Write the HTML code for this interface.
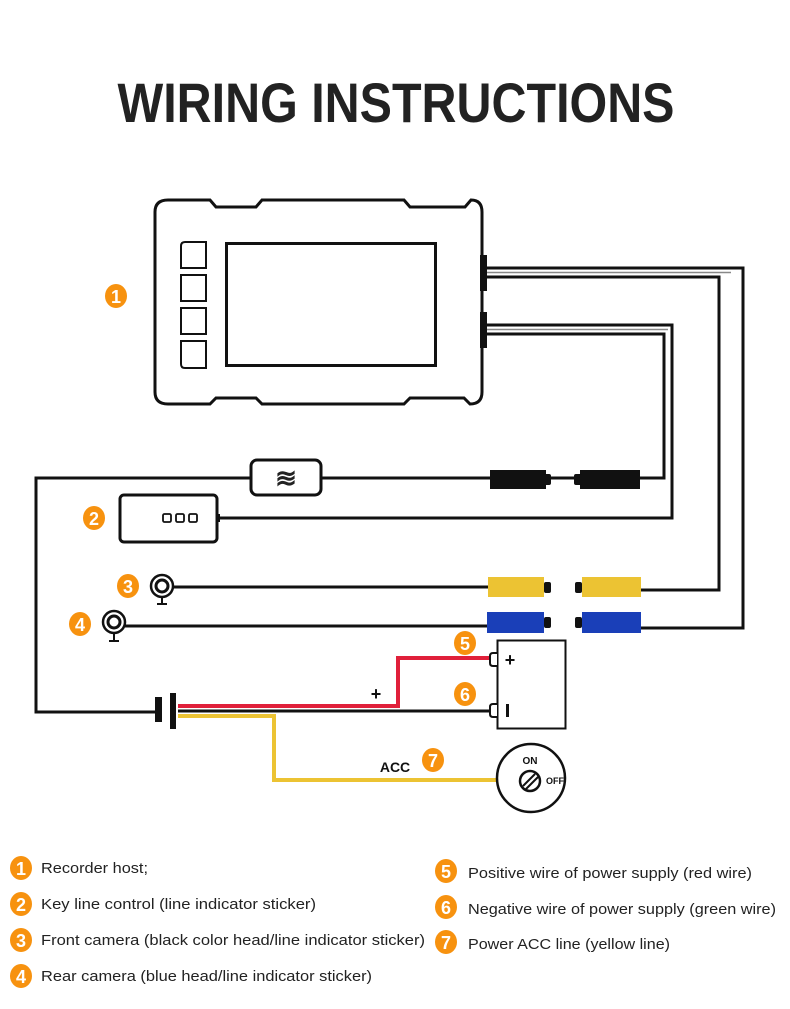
<!DOCTYPE html>
<html><head><meta charset="utf-8"><style>
html,body{margin:0;padding:0;background:#fff;}
svg{display:block;}
.b text{font-family:"Liberation Sans",sans-serif;}
</style></head><body>
<svg width="790" height="1009" viewBox="0 0 790 1009" xmlns="http://www.w3.org/2000/svg" font-family="Liberation Sans, sans-serif">
<defs>
<g id="bd"><ellipse cx="0" cy="0" rx="11" ry="12" fill="#f7920f"/></g>
</defs>
<text x="396" y="122" text-anchor="middle" font-size="56" font-weight="bold" fill="#222" textLength="557" lengthAdjust="spacingAndGlyphs">WIRING INSTRUCTIONS</text>

<!-- recorder -->
<path d="M168 200 H210 L216 207 H256 L262 200 H404 L410 207 H465 L471 200 Q482 200 482 212 V392 Q482 404 470 404 H470 L464 398 H410 L404 404 H262 L256 398 H216 L210 404 H168 Q155 404 155 392 V212 Q155 200 168 200 Z" fill="#fff" stroke="#111" stroke-width="3"/>
<rect x="226.5" y="243.5" width="209" height="122" fill="#fff" stroke="#111" stroke-width="3"/>
<g fill="#fff" stroke="#111" stroke-width="2">
<path d="M185 242 H206 V268 H181 V246 Q181 242 185 242Z"/>
<rect x="181" y="275" width="25" height="26"/>
<rect x="181" y="308" width="25" height="26"/>
<path d="M181 341 H206 V368 H185 Q181 368 181 364Z"/>
</g>
<rect x="480" y="255" width="7" height="36" fill="#111"/>
<rect x="480" y="312" width="7" height="36" fill="#111"/>

<!-- cables from recorder -->
<g fill="none" stroke="#111" stroke-width="3">
<path d="M487 268 H743 V628 H641"/>
<path d="M487 277 H719 V590 H640"/>
<path d="M487 325 H672 V518 H218"/>
<path d="M487 334 H664 V478 H640"/>
<path d="M574 478 H548"/>
<path d="M490 478 H321"/>
<path d="M250 478 H36 V712 H158"/>
<path d="M170 587 H488"/>
<path d="M122 626 H487"/>
<path d="M178 711 H490"/>
</g>
<g fill="none" stroke="#888" stroke-width="1.5">
<path d="M487 272.5 H731"/><path d="M487 329.5 H668"/>
</g>

<!-- filter box -->
<rect x="251" y="460" width="70" height="35" rx="6" fill="#fff" stroke="#111" stroke-width="3"/>
<text x="286" y="487" text-anchor="middle" font-size="26" font-weight="bold" fill="#222">≋</text>

<!-- black connectors -->
<rect x="490" y="470" width="56" height="19" fill="#111"/><rect x="544" y="474" width="7" height="11" rx="2" fill="#111"/>
<rect x="580" y="470" width="60" height="19" fill="#111"/><rect x="574" y="474" width="8" height="11" rx="2" fill="#111"/>

<!-- key box -->
<rect x="120" y="495" width="97" height="47" rx="4" fill="#fff" stroke="#111" stroke-width="3"/>
<rect x="216" y="514" width="4" height="8" fill="#111"/>
<g fill="none" stroke="#111" stroke-width="1.8"><rect x="163" y="514" width="8" height="8" rx="1.5"/><rect x="176" y="514" width="8" height="8" rx="1.5"/><rect x="189" y="514" width="8" height="8" rx="1.5"/></g>

<!-- cameras -->
<circle cx="162" cy="586" r="11" fill="#fff" stroke="#111" stroke-width="2.5"/><circle cx="162" cy="586" r="6" fill="#fff" stroke="#111" stroke-width="3"/>
<path d="M162 597 V604 M157 604 H167" stroke="#111" stroke-width="2"/>
<circle cx="114" cy="622" r="11" fill="#fff" stroke="#111" stroke-width="2.5"/><circle cx="114" cy="622" r="6" fill="#fff" stroke="#111" stroke-width="3"/>
<path d="M114 633 V641 M109 641 H119" stroke="#111" stroke-width="2"/>

<!-- yellow/blue connectors -->
<rect x="488" y="577" width="56" height="20" fill="#ecc333"/><rect x="544" y="582" width="7" height="11" rx="2" fill="#111"/>
<rect x="582" y="577" width="59" height="20" fill="#ecc333"/><rect x="575" y="582" width="7" height="11" rx="2" fill="#111"/>
<rect x="487" y="612" width="57" height="21" fill="#1a3fb8"/><rect x="544" y="617" width="7" height="11" rx="2" fill="#111"/>
<rect x="582" y="612" width="59" height="21" fill="#1a3fb8"/><rect x="575" y="617" width="7" height="11" rx="2" fill="#111"/>

<!-- power -->
<path d="M178 706 H398 V658 H517" fill="none" stroke="#e0203a" stroke-width="4"/>
<path d="M178 716 H274 V780 H498" fill="none" stroke="#ecc333" stroke-width="4"/>
<rect x="155" y="697" width="7" height="25" fill="#111"/><rect x="170" y="693" width="6" height="36" fill="#111"/>
<text x="376" y="700" text-anchor="middle" font-size="18" font-weight="bold" fill="#111">+</text>
<rect x="497.5" y="640.5" width="68" height="88" fill="#fff" stroke="#111" stroke-width="2"/>
<path d="M497 653 H493 Q490 653 490 656 V663 Q490 666 493 666 H497 M497 704 H493 Q490 704 490 707 V714 Q490 717 493 717 H497" fill="#fff" stroke="#111" stroke-width="2"/>
<text x="510" y="666" text-anchor="middle" font-size="18" font-weight="bold" fill="#111">+</text>
<rect x="506" y="704" width="3" height="13" fill="#111"/>

<!-- key switch -->
<circle cx="531" cy="778" r="34" fill="#fff" stroke="#111" stroke-width="2.5"/>
<text x="530" y="764" text-anchor="middle" font-size="10" font-weight="bold" fill="#111">ON</text>
<text x="555" y="784" text-anchor="middle" font-size="9" font-weight="bold" fill="#111">OFF</text>
<circle cx="530" cy="781" r="10" fill="#fff" stroke="#111" stroke-width="2.5"/>
<path d="M523 786 L535 774 M526 789 L538 777" stroke="#111" stroke-width="2"/>
<text x="395" y="772" text-anchor="middle" font-size="14" font-weight="bold" fill="#111">ACC</text>

<!-- badges in diagram -->
<g font-size="18" fill="#fff" text-anchor="middle" font-weight="bold">
<use href="#bd" x="116" y="296"/><text x="116" y="303">1</text>
<use href="#bd" x="94" y="518"/><text x="94" y="525">2</text>
<use href="#bd" x="128" y="586"/><text x="128" y="593">3</text>
<use href="#bd" x="80" y="624"/><text x="80" y="631">4</text>
<use href="#bd" x="465" y="643"/><text x="465" y="650">5</text>
<use href="#bd" x="465" y="694"/><text x="465" y="701">6</text>
<use href="#bd" x="433" y="760"/><text x="433" y="767">7</text>
<use href="#bd" x="21" y="868"/><text x="21" y="875">1</text>
<use href="#bd" x="21" y="904"/><text x="21" y="911">2</text>
<use href="#bd" x="21" y="940"/><text x="21" y="947">3</text>
<use href="#bd" x="21" y="976"/><text x="21" y="983">4</text>
<use href="#bd" x="446" y="871"/><text x="446" y="878">5</text>
<use href="#bd" x="446" y="907"/><text x="446" y="914">6</text>
<use href="#bd" x="446" y="942"/><text x="446" y="949">7</text>
</g>

<!-- legend -->
<g font-size="15" fill="#222">
<text x="41" y="873" textLength="107" lengthAdjust="spacingAndGlyphs">Recorder host;</text>
<text x="41" y="909" textLength="275" lengthAdjust="spacingAndGlyphs">Key line control (line indicator sticker)</text>
<text x="41" y="945" textLength="384" lengthAdjust="spacingAndGlyphs">Front camera (black color head/line indicator sticker)</text>
<text x="41" y="981" textLength="331" lengthAdjust="spacingAndGlyphs">Rear camera (blue head/line indicator sticker)</text>
<text x="468" y="878" textLength="284" lengthAdjust="spacingAndGlyphs">Positive wire of power supply (red wire)</text>
<text x="468" y="914" textLength="308" lengthAdjust="spacingAndGlyphs">Negative wire of power supply (green wire)</text>
<text x="468" y="949" textLength="202" lengthAdjust="spacingAndGlyphs">Power ACC line (yellow line)</text>
</g>
</svg>
</body></html>
